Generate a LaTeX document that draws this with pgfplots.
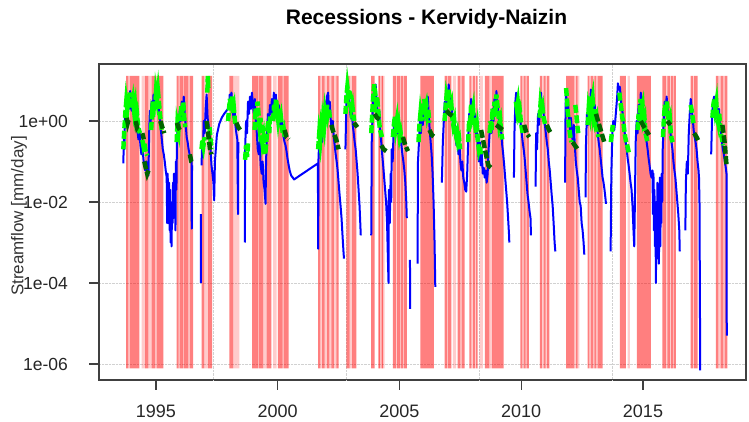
\documentclass[border=0pt]{standalone}
\usepackage{pgfplots}
\pgfplotsset{compat=1.18}
\usepackage{fontspec}
\setmainfont{Liberation Sans}
\definecolor{rblue}{RGB}{0,0,255}
\definecolor{rgreen}{RGB}{0,255,0}
\definecolor{rdgreen}{RGB}{0,100,0}
\definecolor{rred}{RGB}{255,0,0}
\begin{document}
\begin{tikzpicture}
\begin{axis}[
  at={(0,0)}, anchor=south west,
  scale only axis, width=647pt, height=316pt,
  xmin=1992.66, xmax=2019.23,
  ymode=log, log basis y=10,
  ymin=4.03e-7, ymax=25.5,
  unbounded coords=jump,
  axis line style={black!75, line width=1.2pt},
  tick style={black!75, line width=1.2pt},
  tick align=outside, tick pos=left,
  major tick length=10pt,
  xminorticks=false, yminorticks=false,
  xtick={1995,2000,2005,2010,2015},
  xticklabels={1995,2000,2005,2010,2015},
  ytick={1e-6,1e-4,1e-2,1},
  yticklabels={1e-06,1e-04,1e-02,1e+00},
  ymajorgrids,
  extra x ticks={1997.35,2002.81,2008.27,2013.73},
  extra x tick labels={},
  extra x tick style={grid=major, major tick length=0pt},
  grid style={densely dotted, black!18, line width=0.9pt},
  xticklabel style={font=\fontsize{18}{20}\selectfont, text=black!85, anchor=north, inner sep=0pt, yshift=-15pt},
  yticklabel style={font=\fontsize{17.5}{20}\selectfont, text=black!85, anchor=east, inner sep=0pt, xshift=-21pt},
  ylabel={Streamflow [mm/day]},
  every axis y label/.style={at={(axis description cs:0,0.5)}, rotate=90, anchor=center, yshift=80pt, xshift=6pt, font=\fontsize{17}{19}\selectfont, text=black!80},
  title={Recessions - Kervidy-Naizin},
  title style={at={(axis description cs:0.5,1)}, anchor=center, yshift=39pt, xshift=4pt, font=\fontsize{21}{24}\selectfont\bfseries},
  clip=true,
]
% light recession bands
\addplot[draw=none, fill=rred, fill opacity=0.2] table {
x y
1993.87 7.8e-7
1993.87 12.9
1993.93 12.9
1993.93 7.8e-7
1993.93 nan
1994.41 7.8e-7
1994.41 12.9
1994.55 12.9
1994.55 7.8e-7
1994.55 nan
1994.69 7.8e-7
1994.69 12.9
1994.82 12.9
1994.82 7.8e-7
1994.82 nan
1994.96 7.8e-7
1994.96 12.9
1995.03 12.9
1995.03 7.8e-7
1995.03 nan
1995.93 7.8e-7
1995.93 12.9
1995.97 12.9
1995.97 7.8e-7
1995.97 nan
1996.10 7.8e-7
1996.10 12.9
1996.14 12.9
1996.14 7.8e-7
1996.14 nan
1996.33 7.8e-7
1996.33 12.9
1996.39 12.9
1996.39 7.8e-7
1996.39 nan
1996.98 7.8e-7
1996.98 12.9
1997.14 12.9
1997.14 7.8e-7
1997.14 nan
1998.17 7.8e-7
1998.17 12.9
1998.42 12.9
1998.42 7.8e-7
1998.42 nan
1999.18 7.8e-7
1999.18 12.9
1999.22 12.9
1999.22 7.8e-7
1999.22 nan
1999.40 7.8e-7
1999.40 12.9
1999.54 12.9
1999.54 7.8e-7
1999.54 nan
1999.81 7.8e-7
1999.81 12.9
1999.95 12.9
1999.95 7.8e-7
1999.95 nan
2000.20 7.8e-7
2000.20 12.9
2000.24 12.9
2000.24 7.8e-7
2000.24 nan
2001.75 7.8e-7
2001.75 12.9
2001.82 12.9
2001.82 7.8e-7
2001.82 nan
2001.93 7.8e-7
2001.93 12.9
2002.03 12.9
2002.03 7.8e-7
2002.03 nan
2002.12 7.8e-7
2002.12 12.9
2002.20 12.9
2002.20 7.8e-7
2002.20 nan
2002.31 7.8e-7
2002.31 12.9
2002.41 12.9
2002.41 7.8e-7
2002.41 nan
2002.95 7.8e-7
2002.95 12.9
2003.05 12.9
2003.05 7.8e-7
2003.05 nan
2004.12 7.8e-7
2004.12 12.9
2004.39 12.9
2004.39 7.8e-7
2004.39 nan
2004.85 7.8e-7
2004.85 12.9
2004.90 12.9
2004.90 7.8e-7
2004.90 nan
2005.02 7.8e-7
2005.02 12.9
2005.06 12.9
2005.06 7.8e-7
2005.06 nan
2005.14 7.8e-7
2005.14 12.9
2005.18 12.9
2005.18 7.8e-7
2005.18 nan
2006.95 7.8e-7
2006.95 12.9
2006.99 12.9
2006.99 7.8e-7
2006.99 nan
2007.19 7.8e-7
2007.19 12.9
2007.33 12.9
2007.33 7.8e-7
2007.33 nan
2007.50 7.8e-7
2007.50 12.9
2007.55 12.9
2007.55 7.8e-7
2007.55 nan
2007.95 7.8e-7
2007.95 12.9
2008.02 12.9
2008.02 7.8e-7
2008.02 nan
2008.10 7.8e-7
2008.10 12.9
2008.15 12.9
2008.15 7.8e-7
2008.15 nan
2008.28 7.8e-7
2008.28 12.9
2008.42 12.9
2008.42 7.8e-7
2008.42 nan
2008.69 7.8e-7
2008.69 12.9
2008.80 12.9
2008.80 7.8e-7
2008.80 nan
2010.05 7.8e-7
2010.05 12.9
2010.10 12.9
2010.10 7.8e-7
2010.10 nan
2010.18 7.8e-7
2010.18 12.9
2010.22 12.9
2010.22 7.8e-7
2010.22 nan
2010.85 7.8e-7
2010.85 12.9
2010.92 12.9
2010.92 7.8e-7
2010.92 nan
2011.00 7.8e-7
2011.00 12.9
2011.06 12.9
2011.06 7.8e-7
2011.06 nan
2012.18 7.8e-7
2012.18 12.9
2012.25 12.9
2012.25 7.8e-7
2012.25 nan
2012.32 7.8e-7
2012.32 12.9
2012.39 12.9
2012.39 7.8e-7
2012.39 nan
2012.80 7.8e-7
2012.80 12.9
2012.86 12.9
2012.86 7.8e-7
2012.86 nan
2012.95 7.8e-7
2012.95 12.9
2013.00 12.9
2013.00 7.8e-7
2013.00 nan
2013.07 7.8e-7
2013.07 12.9
2013.14 12.9
2013.14 7.8e-7
2013.14 nan
2014.37 7.8e-7
2014.37 12.9
2014.46 12.9
2014.46 7.8e-7
2014.46 nan
2015.94 7.8e-7
2015.94 12.9
2016.00 12.9
2016.00 7.8e-7
2016.00 nan
2016.10 7.8e-7
2016.10 12.9
2016.15 12.9
2016.15 7.8e-7
2016.15 nan
2016.25 7.8e-7
2016.25 12.9
2016.28 12.9
2016.28 7.8e-7
2016.28 nan
2017.05 7.8e-7
2017.05 12.9
2017.10 12.9
2017.10 7.8e-7
2017.10 nan
2018.10 7.8e-7
2018.10 12.9
2018.19 12.9
2018.19 7.8e-7
2018.19 nan
2018.30 7.8e-7
2018.30 12.9
2018.35 12.9
2018.35 7.8e-7
};
% dense recession bands
\addplot[draw=none, fill=rred, fill opacity=0.5] table {
x y
1993.77 7.8e-7
1993.77 12.9
1993.87 12.9
1993.87 7.8e-7
1993.87 nan
1993.93 7.8e-7
1993.93 12.9
1994.32 12.9
1994.32 7.8e-7
1994.32 nan
1994.55 7.8e-7
1994.55 12.9
1994.69 12.9
1994.69 7.8e-7
1994.69 nan
1994.82 7.8e-7
1994.82 12.9
1994.96 12.9
1994.96 7.8e-7
1994.96 nan
1995.03 7.8e-7
1995.03 12.9
1995.30 12.9
1995.30 7.8e-7
1995.30 nan
1995.85 7.8e-7
1995.85 12.9
1995.93 12.9
1995.93 7.8e-7
1995.93 nan
1995.97 7.8e-7
1995.97 12.9
1996.10 12.9
1996.10 7.8e-7
1996.10 nan
1996.14 7.8e-7
1996.14 12.9
1996.33 12.9
1996.33 7.8e-7
1996.33 nan
1996.39 7.8e-7
1996.39 12.9
1996.53 12.9
1996.53 7.8e-7
1996.53 nan
1996.87 7.8e-7
1996.87 12.9
1996.98 12.9
1996.98 7.8e-7
1996.98 nan
1997.14 7.8e-7
1997.14 12.9
1997.31 12.9
1997.31 7.8e-7
1997.31 nan
1998.01 7.8e-7
1998.01 12.9
1998.17 12.9
1998.17 7.8e-7
1998.17 nan
1998.95 7.8e-7
1998.95 12.9
1999.18 12.9
1999.18 7.8e-7
1999.18 nan
1999.22 7.8e-7
1999.22 12.9
1999.40 12.9
1999.40 7.8e-7
1999.40 nan
1999.54 7.8e-7
1999.54 12.9
1999.74 12.9
1999.74 7.8e-7
1999.74 nan
2000.01 7.8e-7
2000.01 12.9
2000.20 12.9
2000.20 7.8e-7
2000.20 nan
2000.24 7.8e-7
2000.24 12.9
2000.45 12.9
2000.45 7.8e-7
2000.45 nan
2001.66 7.8e-7
2001.66 12.9
2001.75 12.9
2001.75 7.8e-7
2001.75 nan
2001.82 7.8e-7
2001.82 12.9
2001.93 12.9
2001.93 7.8e-7
2001.93 nan
2002.03 7.8e-7
2002.03 12.9
2002.12 12.9
2002.12 7.8e-7
2002.12 nan
2002.20 7.8e-7
2002.20 12.9
2002.31 12.9
2002.31 7.8e-7
2002.31 nan
2002.41 7.8e-7
2002.41 12.9
2002.50 12.9
2002.50 7.8e-7
2002.50 nan
2002.82 7.8e-7
2002.82 12.9
2002.95 12.9
2002.95 7.8e-7
2002.95 nan
2003.05 7.8e-7
2003.05 12.9
2003.23 12.9
2003.23 7.8e-7
2003.23 nan
2003.84 7.8e-7
2003.84 12.9
2003.98 12.9
2003.98 7.8e-7
2003.98 nan
2004.14 7.8e-7
2004.14 12.9
2004.20 12.9
2004.20 7.8e-7
2004.20 nan
2004.27 7.8e-7
2004.27 12.9
2004.33 12.9
2004.33 7.8e-7
2004.33 nan
2004.73 7.8e-7
2004.73 12.9
2004.85 12.9
2004.85 7.8e-7
2004.85 nan
2004.90 7.8e-7
2004.90 12.9
2005.02 12.9
2005.02 7.8e-7
2005.02 nan
2005.06 7.8e-7
2005.06 12.9
2005.14 12.9
2005.14 7.8e-7
2005.14 nan
2005.18 7.8e-7
2005.18 12.9
2005.30 12.9
2005.30 7.8e-7
2005.30 nan
2005.86 7.8e-7
2005.86 12.9
2006.41 12.9
2006.41 7.8e-7
2006.41 nan
2006.85 7.8e-7
2006.85 12.9
2006.95 12.9
2006.95 7.8e-7
2006.95 nan
2006.99 7.8e-7
2006.99 12.9
2007.13 12.9
2007.13 7.8e-7
2007.13 nan
2007.39 7.8e-7
2007.39 12.9
2007.50 12.9
2007.50 7.8e-7
2007.50 nan
2007.55 7.8e-7
2007.55 12.9
2007.67 12.9
2007.67 7.8e-7
2007.67 nan
2007.87 7.8e-7
2007.87 12.9
2007.95 12.9
2007.95 7.8e-7
2007.95 nan
2008.02 7.8e-7
2008.02 12.9
2008.10 12.9
2008.10 7.8e-7
2008.10 nan
2008.15 7.8e-7
2008.15 12.9
2008.21 12.9
2008.21 7.8e-7
2008.21 nan
2008.51 7.8e-7
2008.51 12.9
2008.69 12.9
2008.69 7.8e-7
2008.69 nan
2008.80 7.8e-7
2008.80 12.9
2009.28 12.9
2009.28 7.8e-7
2009.28 nan
2009.96 7.8e-7
2009.96 12.9
2010.05 12.9
2010.05 7.8e-7
2010.05 nan
2010.10 7.8e-7
2010.10 12.9
2010.18 12.9
2010.18 7.8e-7
2010.18 nan
2010.22 7.8e-7
2010.22 12.9
2010.31 12.9
2010.31 7.8e-7
2010.31 nan
2010.77 7.8e-7
2010.77 12.9
2010.85 12.9
2010.85 7.8e-7
2010.85 nan
2010.92 7.8e-7
2010.92 12.9
2011.00 12.9
2011.00 7.8e-7
2011.00 nan
2011.06 7.8e-7
2011.06 12.9
2011.16 12.9
2011.16 7.8e-7
2011.16 nan
2011.84 7.8e-7
2011.84 12.9
2012.18 12.9
2012.18 7.8e-7
2012.18 nan
2012.25 7.8e-7
2012.25 12.9
2012.32 12.9
2012.32 7.8e-7
2012.32 nan
2012.73 7.8e-7
2012.73 12.9
2012.80 12.9
2012.80 7.8e-7
2012.80 nan
2012.86 7.8e-7
2012.86 12.9
2012.95 12.9
2012.95 7.8e-7
2012.95 nan
2013.00 7.8e-7
2013.00 12.9
2013.07 12.9
2013.07 7.8e-7
2013.07 nan
2013.14 7.8e-7
2013.14 12.9
2013.34 12.9
2013.34 7.8e-7
2013.34 nan
2014.05 7.8e-7
2014.05 12.9
2014.30 12.9
2014.30 7.8e-7
2014.30 nan
2014.75 7.8e-7
2014.75 12.9
2015.32 12.9
2015.32 7.8e-7
2015.32 nan
2015.80 7.8e-7
2015.80 12.9
2015.94 12.9
2015.94 7.8e-7
2015.94 nan
2016.00 7.8e-7
2016.00 12.9
2016.10 12.9
2016.10 7.8e-7
2016.10 nan
2016.15 7.8e-7
2016.15 12.9
2016.25 12.9
2016.25 7.8e-7
2016.25 nan
2016.28 7.8e-7
2016.28 12.9
2016.35 12.9
2016.35 7.8e-7
2016.35 nan
2016.96 7.8e-7
2016.96 12.9
2017.05 12.9
2017.05 7.8e-7
2017.05 nan
2017.10 7.8e-7
2017.10 12.9
2017.24 12.9
2017.24 7.8e-7
2017.24 nan
2017.99 7.8e-7
2017.99 12.9
2018.10 12.9
2018.10 7.8e-7
2018.10 nan
2018.19 7.8e-7
2018.19 12.9
2018.30 12.9
2018.30 7.8e-7
2018.30 nan
2018.35 7.8e-7
2018.35 12.9
2018.47 12.9
2018.47 7.8e-7
};
% streamflow
\addplot[rblue, line width=2pt, line join=round] table {
x y
1993.66 0.09
1993.68 0.4
1993.70 0.2
1993.73 1.5
1993.76 0.8
1993.80 2.5
1993.83 1.2
1993.87 4.5
1993.90 2.0
1993.94 5.5
1993.97 2.5
1994.00 1.8
1994.03 3.5
1994.07 1.5
1994.10 2.8
1994.14 1.2
1994.18 0.7
1994.21 1.5
1994.25 0.5
1994.28 0.35
1994.32 0.6
1994.36 0.25
1994.40 0.15
1994.44 0.3
1994.48 0.12
1994.52 0.08
1994.56 0.06
1994.60 0.1
1994.64 0.055
1994.69 0.045
1994.72 0.5
1994.75 1.8
1994.78 0.9
1994.82 3.0
1994.86 1.5
1994.90 4.5
1994.94 2.5
1994.98 6.0
1995.02 3.5
1995.05 7.5
1995.08 3.0
1995.12 2.0
1995.16 1.2
1995.20 0.6
1995.24 0.35
1995.28 0.2
1995.32 0.15
1995.36 0.1
1995.40 0.06
1995.44 0.04
1995.46 0.003
1995.48 0.05
1995.50 0.01
1995.52 0.003
1995.54 0.03
1995.56 0.002
1995.58 0.02
1995.60 0.001
1995.62 0.008
1995.64 0.0008
1995.66 0.01
1995.68 0.003
1995.70 0.03
1995.72 0.004
1995.74 0.05
1995.76 0.006
1995.78 0.02
1995.80 0.002
1995.82 0.1
1995.84 0.02
1995.86 0.3
1995.90 1.0
1995.94 0.5
1995.98 2.0
1996.02 1.0
1996.06 3.0
1996.10 1.5
1996.14 4.0
1996.18 1.5
1996.22 0.8
1996.26 0.4
1996.30 0.3
1996.34 0.2
1996.38 0.15
1996.42 0.12
1996.46 0.1
1996.47 0.0022
1996.48 0.08
1996.50 nan
1996.84 0.005
1996.845 1e-4
1996.85 nan
1996.87 0.08
1996.90 0.3
1996.93 0.15
1996.96 1.0
1997.00 0.5
1997.04 2.0
1997.08 4.5
1997.12 1.2
1997.16 0.8
1997.20 0.4
1997.24 0.2
1997.28 0.08
1997.32 0.05
1997.36 0.03
1997.39 0.011
1997.42 0.1
1997.50 0.45
1997.60 0.85
1997.70 1.2
1997.80 1.5
1997.90 1.8
1998.00 2.2
1998.03 4.5
1998.06 2.5
1998.10 5.0
1998.14 2.0
1998.18 1.2
1998.22 2.5
1998.26 0.8
1998.30 0.5
1998.34 0.35
1998.37 0.005
1998.38 0.3
1998.40 nan
1998.65 0.001
1998.66 0.2
1998.70 1.0
1998.74 0.5
1998.78 3.0
1998.82 1.5
1998.86 4.0
1998.90 2.0
1998.94 5.0
1998.98 2.5
1999.02 1.5
1999.06 3.5
1999.10 1.0
1999.14 0.5
1999.18 0.2
1999.22 0.15
1999.26 0.3
1999.30 0.08
1999.34 0.05
1999.38 0.1
1999.42 0.03
1999.46 0.02
1999.50 0.009
1999.52 0.1
1999.56 0.5
1999.60 1.5
1999.64 0.8
1999.68 2.5
1999.72 1.5
1999.76 3.5
1999.80 1.5
1999.84 5.0
1999.88 2.5
1999.92 4.5
1999.96 2.0
2000.00 1.2
2000.04 2.5
2000.08 1.0
2000.12 0.7
2000.16 1.5
2000.20 0.6
2000.24 0.4
2000.28 0.3
2000.32 0.25
2000.36 0.18
2000.40 0.12
2000.45 0.08
2000.49 0.06
2000.55 0.045
2000.62 0.04
2000.67 0.036
2001.65 0.09
2001.66 0.0007
2001.67 0.1
2001.70 0.3
2001.74 0.15
2001.78 0.6
2001.82 0.3
2001.86 1.5
2001.90 0.8
2001.94 3.0
2001.98 1.5
2002.02 4.0
2002.07 5.0
2002.10 2.0
2002.14 3.0
2002.18 1.0
2002.22 0.6
2002.26 1.0
2002.30 0.4
2002.34 0.25
2002.38 0.15
2002.42 0.1
2002.46 0.06
2002.50 0.03
2002.54 0.015
2002.58 0.008
2002.62 0.004
2002.66 0.0015
2002.70 0.0006
2002.72 0.0004
2002.73 nan
2002.78 0.2
2002.82 3.0
2002.85 7.0
2002.88 3.0
2002.92 5.0
2002.96 2.0
2003.00 1.2
2003.04 2.0
2003.08 0.8
2003.12 0.5
2003.16 0.3
2003.20 0.2
2003.24 0.1
2003.28 0.05
2003.32 0.02
2003.36 0.008
2003.41 0.0015
2003.42 nan
2003.84 0.0015
2003.86 0.3
2003.90 2.0
2003.94 5.0
2003.98 3.0
2004.02 8.0
2004.05 4.0
2004.09 2.0
2004.13 1.0
2004.17 1.8
2004.21 0.5
2004.25 0.3
2004.29 0.15
2004.33 0.08
2004.37 0.04
2004.41 0.02
2004.45 0.01
2004.49 0.003
2004.52 0.0005
2004.55 0.0001
2004.56 0.02
2004.60 0.003
2004.64 0.05
2004.66 0.01
2004.68 0.2
2004.72 0.1
2004.76 0.6
2004.80 1.2
2004.84 0.6
2004.88 1.0
2004.92 0.5
2004.96 0.8
2005.00 0.35
2005.04 0.5
2005.08 0.25
2005.12 0.15
2005.16 0.1
2005.20 0.06
2005.24 0.03
2005.28 0.01
2005.30 0.004
2005.31 nan
2005.43 3.7e-4
2005.44 2.3e-5
2005.45 nan
2005.74 3e-4
2005.76 0.1
2005.80 0.3
2005.84 1.0
2005.88 0.5
2005.92 2.0
2005.96 0.8
2006.00 3.0
2006.04 1.5
2006.08 2.5
2006.12 1.0
2006.16 4.0
2006.20 1.5
2006.24 0.6
2006.28 0.3
2006.32 0.15
2006.36 0.05
2006.40 0.01
2006.44 0.001
2006.47 8e-5
2006.48 nan
2006.74 0.03
2006.78 0.3
2006.82 1.0
2006.86 3.0
2006.90 1.5
2006.94 5.0
2006.98 3.0
2007.02 8.0
2007.06 4.0
2007.10 2.0
2007.14 3.0
2007.18 1.0
2007.22 0.6
2007.26 1.2
2007.30 0.4
2007.34 0.25
2007.38 0.4
2007.42 0.15
2007.46 0.3
2007.50 0.1
2007.54 0.06
2007.58 0.1
2007.62 0.04
2007.66 0.03
2007.70 0.02
2007.74 0.018
2007.78 0.05
2007.82 0.3
2007.86 1.5
2007.90 0.8
2007.94 3.5
2007.98 1.5
2008.02 2.5
2008.06 0.8
2008.10 1.5
2008.14 0.4
2008.18 0.8
2008.22 0.2
2008.26 0.1
2008.30 0.3
2008.34 0.08
2008.38 0.15
2008.42 0.05
2008.46 0.07
2008.50 0.04
2008.54 0.06
2008.58 0.03
2008.62 0.05
2008.66 0.2
2008.70 0.5
2008.74 1.0
2008.78 0.5
2008.82 2.0
2008.86 1.0
2008.90 3.5
2008.94 1.5
2008.98 5.5
2009.02 2.5
2009.06 1.5
2009.10 0.8
2009.14 1.2
2009.18 0.5
2009.22 0.25
2009.26 0.15
2009.30 0.08
2009.34 0.04
2009.38 0.02
2009.42 0.01
2009.46 0.004
2009.50 0.0015
2009.51 0.001
2009.52 nan
2009.70 0.04
2009.72 0.5
2009.76 3.0
2009.79 5.0
2009.82 2.5
2009.86 3.5
2009.90 1.5
2009.94 2.0
2009.98 0.8
2010.02 0.5
2010.06 0.3
2010.10 0.2
2010.14 0.12
2010.18 0.06
2010.22 0.03
2010.26 0.015
2010.30 0.01
2010.34 0.006
2010.38 0.004
2010.40 0.0015
2010.41 nan
2010.59 0.024
2010.61 0.5
2010.65 0.2
2010.69 1.5
2010.73 0.8
2010.77 2.5
2010.81 5.0
2010.85 2.0
2010.89 3.0
2010.93 1.2
2010.97 0.8
2011.01 0.5
2011.05 0.3
2011.09 0.2
2011.13 0.1
2011.17 0.06
2011.21 0.03
2011.25 0.015
2011.29 0.008
2011.33 0.003
2011.37 0.001
2011.40 0.0006
2011.41 nan
2011.80 0.03
2011.82 2.0
2011.84 5.0
2011.88 1.5
2011.92 3.0
2011.96 1.0
2012.00 0.6
2012.04 1.2
2012.08 0.5
2012.12 0.3
2012.16 0.8
2012.20 0.25
2012.24 0.1
2012.28 0.06
2012.32 0.04
2012.36 0.02
2012.40 0.01
2012.44 0.008
2012.48 0.003
2012.52 0.002
2012.56 0.001
2012.59 0.0005
2012.60 nan
2012.64 0.013
2012.66 0.3
2012.70 1.5
2012.74 0.8
2012.78 3.0
2012.82 1.5
2012.86 6.0
2012.90 3.0
2012.94 4.0
2012.98 1.5
2013.02 2.5
2013.06 0.8
2013.10 1.2
2013.14 0.5
2013.18 0.3
2013.22 0.2
2013.26 0.12
2013.30 0.07
2013.34 0.04
2013.38 0.03
2013.42 0.02
2013.46 0.012
2013.48 0.009
2013.49 nan
2013.67 6e-4
2013.70 0.05
2013.74 0.5
2013.78 1.0
2013.82 0.6
2013.86 1.0
2013.90 2.0
2013.94 4.0
2013.97 8.5
2014.01 6.0
2014.05 7.0
2014.09 3.5
2014.13 2.0
2014.17 1.5
2014.21 0.8
2014.25 0.5
2014.29 0.3
2014.33 0.2
2014.37 0.12
2014.41 0.08
2014.45 0.05
2014.49 0.03
2014.53 0.02
2014.57 0.008
2014.61 0.002
2014.64 0.0008
2014.66 0.005
2014.70 0.3
2014.74 1.0
2014.78 0.5
2014.82 2.5
2014.86 1.2
2014.91 5.0
2014.95 2.0
2014.99 3.0
2015.03 1.0
2015.07 1.5
2015.11 0.5
2015.15 0.3
2015.19 0.2
2015.23 0.12
2015.27 0.08
2015.31 0.05
2015.35 0.04
2015.39 0.06
2015.41 0.005
2015.43 0.05
2015.45 0.002
2015.47 0.02
2015.49 0.0008
2015.51 0.01
2015.53 0.0001
2015.55 0.005
2015.57 0.0004
2015.59 0.03
2015.61 0.001
2015.63 0.01
2015.65 0.0003
2015.67 0.002
2015.69 0.04
2015.71 0.0008
2015.73 0.01
2015.75 0.003
2015.77 0.05
2015.79 0.01
2015.81 0.2
2015.85 1.0
2015.89 3.0
2015.93 1.5
2015.97 4.0
2016.01 2.0
2016.05 1.0
2016.09 1.5
2016.13 0.5
2016.17 0.3
2016.21 0.2
2016.25 0.1
2016.29 0.06
2016.33 0.04
2016.37 0.02
2016.41 0.01
2016.45 0.005
2016.49 0.002
2016.51 0.0006
2016.52 nan
2016.74 0.002
2016.76 0.03
2016.80 0.1
2016.84 0.05
2016.88 0.5
2016.92 1.5
2016.96 3.5
2017.00 2.0
2017.04 1.2
2017.08 0.6
2017.12 0.4
2017.16 0.3
2017.20 0.2
2017.24 0.1
2017.28 0.06
2017.30 0.04
2017.32 0.01
2017.35 7e-7
2017.36 nan
2017.80 0.15
2017.84 1.5
2017.88 3.0
2017.92 4.0
2017.96 2.5
2018.00 3.5
2018.04 1.5
2018.08 1.0
2018.12 2.0
2018.16 0.8
2018.20 0.5
2018.24 0.3
2018.28 0.2
2018.32 0.15
2018.36 0.1
2018.40 0.07
2018.43 0.05
2018.44 5e-6
};
% recession segments (bright green)
\addplot[rgreen, line width=4.5pt, dash pattern=on 8pt off 2.5pt] table {
x y
1993.66 0.2
1993.70 0.6
1993.74 1.5
1993.78 3.0
1993.82 2.0
1993.86 4.0
1993.90 2.5
1993.94 5.0
1993.98 3.0
1994.02 2.0
1994.06 3.0
1994.10 1.8
1994.14 2.5
1994.18 1.2
1994.22 1.5
1994.26 0.8
1994.30 0.6
1994.34 0.5
1994.36 nan
1994.44 0.34
1994.48 0.25
1994.52 0.3
1994.56 0.2
1994.60 0.16
1994.64 0.14
1994.66 nan
1994.80 0.6
1994.84 1.5
1994.88 1.2
1994.92 3.0
1994.96 2.0
1995.00 5.0
1995.04 3.5
1995.08 5.5
1995.12 3.0
1995.16 1.5
1995.20 0.9
1995.24 0.6
1995.26 nan
1995.85 0.3
1995.88 0.8
1995.92 0.6
1995.96 1.5
1996.00 1.0
1996.04 2.5
1996.08 1.5
1996.12 3.0
1996.16 1.2
1996.20 0.7
1996.22 nan
1996.87 0.2
1996.91 0.35
1996.95 0.25
1997.00 0.4
1997.02 nan
1997.11 5.0
1997.13 13.0
1997.15 6.0
1997.17 nan
1997.20 0.7
1997.24 0.35
1997.28 0.2
1997.30 nan
1997.96 1.0
1998.00 2.0
1998.04 3.5
1998.08 2.0
1998.12 4.0
1998.16 1.5
1998.20 2.0
1998.24 1.0
1998.28 0.8
1998.30 nan
1998.66 0.11
1998.70 0.25
1998.74 0.13
1998.78 0.28
1998.80 nan
1999.05 0.6
1999.09 2.0
1999.13 1.2
1999.17 3.0
1999.21 1.5
1999.25 0.8
1999.29 1.2
1999.33 0.5
1999.37 0.3
1999.41 0.4
1999.45 0.2
1999.49 0.15
1999.53 0.3
1999.57 0.6
1999.61 1.0
1999.65 0.5
1999.69 1.5
1999.71 nan
1999.81 1.0
1999.85 2.5
1999.89 1.5
1999.93 3.5
1999.97 2.0
2000.01 1.2
2000.05 2.0
2000.09 0.9
2000.13 1.2
2000.17 0.7
2000.21 0.5
2000.25 0.6
2000.29 0.4
2000.31 nan
2001.66 0.2
2001.70 0.45
2001.74 0.3
2001.78 0.6
2001.82 0.4
2001.86 1.0
2001.90 0.7
2001.94 1.5
2001.98 1.0
2002.02 2.5
2002.06 1.5
2002.10 2.0
2002.14 1.2
2002.16 nan
2002.78 1.5
2002.82 4.0
2002.86 7.0
2002.90 4.5
2002.94 6.0
2002.98 3.0
2003.02 2.0
2003.06 2.5
2003.10 1.5
2003.14 1.0
2003.16 nan
2003.84 0.5
2003.88 1.5
2003.92 4.0
2003.96 8.0
2004.00 5.0
2004.04 3.0
2004.08 4.0
2004.12 2.0
2004.16 1.0
2004.20 0.6
2004.24 0.5
2004.28 0.4
2004.30 nan
2004.73 0.4
2004.77 0.8
2004.81 1.3
2004.85 0.7
2004.89 1.0
2004.93 0.5
2004.97 0.7
2005.01 0.4
2005.05 0.5
2005.09 0.35
2005.13 0.3
2005.15 nan
2005.78 0.3
2005.82 0.8
2005.86 1.5
2005.90 1.0
2005.94 2.5
2005.98 1.5
2006.02 3.5
2006.06 2.0
2006.10 2.5
2006.14 1.5
2006.18 2.0
2006.22 0.9
2006.24 nan
2006.85 1.0
2006.89 2.0
2006.93 4.0
2006.97 3.0
2007.01 6.0
2007.05 3.5
2007.09 2.0
2007.13 2.5
2007.17 1.2
2007.21 0.8
2007.25 1.0
2007.29 0.5
2007.33 0.4
2007.37 0.5
2007.41 0.3
2007.45 0.35
2007.49 0.2
2007.51 nan
2007.82 0.3
2007.86 1.0
2007.90 0.7
2007.94 2.5
2007.98 1.5
2008.02 2.0
2008.06 0.8
2008.10 1.2
2008.14 0.5
2008.18 0.7
2008.22 0.3
2008.26 0.2
2008.30 0.25
2008.34 0.15
2008.36 nan
2008.70 0.5
2008.74 1.0
2008.78 0.6
2008.82 2.0
2008.86 1.2
2008.90 3.0
2008.94 1.5
2008.98 4.5
2009.02 2.5
2009.06 1.5
2009.10 0.8
2009.14 1.0
2009.18 0.5
2009.22 0.35
2009.24 nan
2009.78 3.0
2009.82 2.0
2009.86 2.8
2009.90 1.5
2009.94 1.8
2009.98 1.0
2010.02 0.7
2010.06 0.5
2010.08 nan
2010.75 1.2
2010.79 2.5
2010.83 1.8
2010.87 2.2
2010.91 1.3
2010.95 1.0
2010.99 0.8
2011.01 nan
2011.84 6.5
2011.87 4.0
2011.90 2.0
2011.94 1.0
2011.98 0.6
2012.02 0.4
2012.06 0.3
2012.08 nan
2012.22 2.5
2012.26 1.5
2012.30 0.8
2012.34 0.5
2012.36 nan
2012.73 0.8
2012.77 2.0
2012.81 1.5
2012.85 4.0
2012.89 2.5
2012.93 3.5
2012.97 1.5
2013.01 2.0
2013.05 1.0
2013.09 1.2
2013.13 0.6
2013.17 0.4
2013.19 nan
2013.68 0.3
2013.72 0.5
2013.76 0.8
2013.78 nan
2014.03 5.0
2014.07 3.0
2014.11 2.0
2014.15 1.2
2014.19 1.0
2014.23 0.6
2014.27 0.4
2014.31 0.3
2014.35 0.25
2014.39 0.2
2014.43 0.15
2014.45 nan
2014.78 0.6
2014.82 1.5
2014.86 1.0
2014.90 3.5
2014.94 2.0
2014.98 2.5
2015.02 1.0
2015.06 1.2
2015.10 0.5
2015.14 0.4
2015.18 0.3
2015.20 nan
2015.82 0.4
2015.86 1.2
2015.90 2.5
2015.94 1.5
2015.98 3.0
2016.02 1.5
2016.06 1.0
2016.10 1.2
2016.14 0.5
2016.18 0.35
2016.22 0.3
2016.24 nan
2016.96 2.5
2017.00 1.8
2017.04 1.2
2017.08 0.8
2017.10 nan
2017.85 1.2
2017.89 2.5
2017.93 3.5
2017.97 2.0
2018.01 2.8
2018.05 1.2
2018.09 0.9
2018.13 1.5
2018.17 0.7
2018.21 0.45
2018.25 0.35
2018.29 0.25
};
% recession segments (dark green)
\addplot[rdgreen, line width=4.5pt, dash pattern=on 8pt off 2.5pt] table {
x y
1993.80 1.2
1993.84 0.9
1993.88 1.1
1993.89 nan
1994.17 1.0
1994.22 0.7
1994.28 0.8
1994.29 nan
1994.44 0.5
1994.50 0.35
1994.51 nan
1994.52 0.1
1994.58 0.07
1994.64 0.05
1994.69 0.06
1994.70 nan
1995.18 1.0
1995.26 0.7
1995.34 0.5
1995.35 nan
1995.86 0.9
1995.92 0.7
1995.98 0.6
1995.99 nan
1996.39 0.15
1996.45 0.1
1996.52 0.09
1996.53 nan
1997.08 1.0
1997.14 0.5
1997.22 0.2
1997.28 0.15
1997.29 nan
1998.30 0.9
1998.38 0.7
1998.46 0.6
1998.47 nan
2000.28 0.6
2000.36 0.4
2000.46 0.35
2000.47 nan
2002.20 0.8
2002.30 0.5
2002.40 0.35
2002.50 0.2
2002.51 nan
2003.13 0.9
2003.20 0.8
2003.27 0.7
2003.28 nan
2003.98 1.5
2004.08 1.2
2004.18 1.1
2004.19 nan
2004.25 0.25
2004.35 0.2
2004.46 0.18
2004.47 nan
2005.14 0.4
2005.24 0.25
2005.35 0.18
2005.36 nan
2006.23 0.6
2006.33 0.45
2006.44 0.4
2006.45 nan
2006.92 1.8
2007.05 1.5
2007.19 1.3
2007.20 nan
2008.35 0.6
2008.45 0.3
2008.55 0.15
2008.65 0.08
2008.76 0.07
2008.77 nan
2008.97 0.8
2009.10 0.7
2009.24 0.6
2009.25 nan
2010.12 0.8
2010.22 0.5
2010.33 0.4
2010.34 nan
2011.05 0.8
2011.14 0.6
2011.22 0.5
2011.23 nan
2012.11 0.3
2012.20 0.25
2012.32 0.2
2012.33 nan
2013.07 1.5
2013.20 0.8
2013.30 0.5
2013.41 0.3
2013.42 nan
2014.91 1.0
2015.05 0.7
2015.25 0.45
2015.26 nan
2016.00 1.0
2016.12 0.8
2016.13 nan
2017.10 0.5
2017.20 0.4
2017.30 0.3
2017.31 nan
2018.26 0.8
2018.35 0.3
2018.43 0.08
};
\end{axis}
\pgfresetboundingbox
\path (-99pt,-41pt) rectangle (650pt,380pt);
\end{tikzpicture}
\end{document}
